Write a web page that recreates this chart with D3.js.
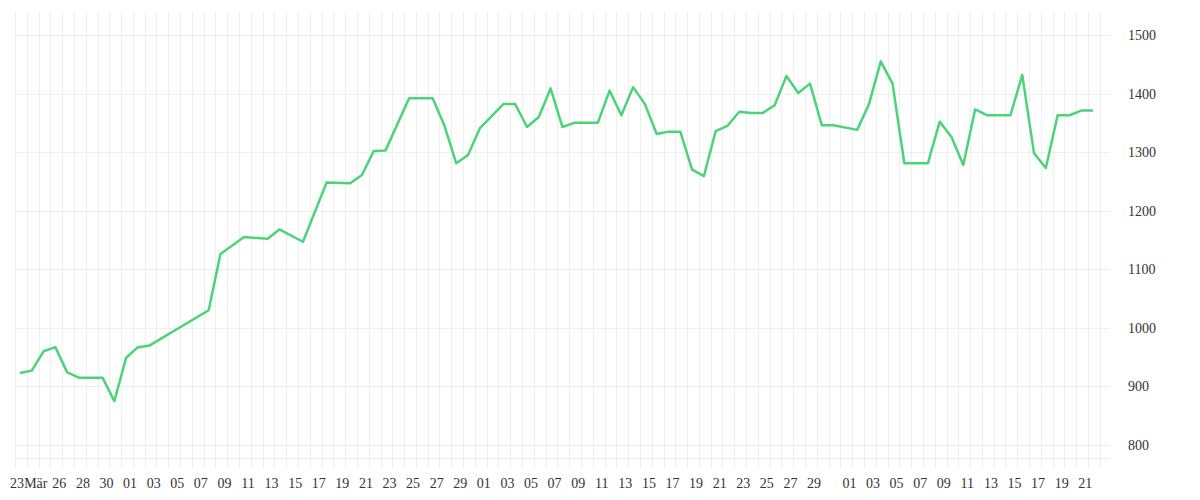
<!DOCTYPE html>
<html><head><meta charset="utf-8">
<script src="https://cdn.jsdelivr.net/npm/d3@7/dist/d3.min.js"></script>
<style>body{margin:0;background:#fff}svg{display:block}</style>
</head><body><svg id="c" width="1200" height="500"></svg>
<script>
const dates = ["2020-03-23","2020-03-24","2020-03-25","2020-03-26","2020-03-27","2020-03-28","2020-03-30","2020-03-31","2020-04-01","2020-04-02","2020-04-03",
"2020-04-08","2020-04-09","2020-04-11","2020-04-13","2020-04-14","2020-04-16","2020-04-18","2020-04-20","2020-04-21","2020-04-22",
"2020-04-23","2020-04-25","2020-04-27","2020-04-28","2020-04-29","2020-04-30","2020-05-01","2020-05-03","2020-05-04","2020-05-05",
"2020-05-06","2020-05-07","2020-05-08","2020-05-09","2020-05-11","2020-05-12","2020-05-13","2020-05-14","2020-05-15","2020-05-16",
"2020-05-17","2020-05-18","2020-05-19","2020-05-20","2020-05-21","2020-05-22","2020-05-23","2020-05-24","2020-05-25","2020-05-26",
"2020-05-27","2020-05-28","2020-05-29","2020-05-30","2020-05-31","2020-06-02","2020-06-03","2020-06-04","2020-06-05","2020-06-06",
"2020-06-08","2020-06-09","2020-06-10","2020-06-11","2020-06-12","2020-06-13","2020-06-15","2020-06-16","2020-06-17","2020-06-18",
"2020-06-19","2020-06-20","2020-06-21","2020-06-22"];
const values = [923,927,960,967,924,915,915,875,949,967,970,
1030,1126,1155,1152,1168,1147,1248,1247,1261,1302,
1303,1392,1392,1345,1281,1295,1341,1382,1382,1343,
1360,1409,1343,1350,1350,1405,1363,1411,1382,1331,
1335,1335,1270,1259,1336,1345,1369,1367,1367,1380,
1430,1401,1417,1346,1346,1338,1382,1455,1417,1281,
1281,1352,1326,1278,1373,1363,1363,1432,1298,1273,
1363,1363,1371,1371];
const tickDates = ["2020-03-23","2020-03-24","2020-03-26","2020-03-28","2020-03-30",
"2020-04-01","2020-04-03","2020-04-05","2020-04-07","2020-04-09","2020-04-11","2020-04-13","2020-04-15","2020-04-17","2020-04-19","2020-04-21","2020-04-23","2020-04-25","2020-04-27","2020-04-29",
"2020-05-01","2020-05-03","2020-05-05","2020-05-07","2020-05-09","2020-05-11","2020-05-13","2020-05-15","2020-05-17","2020-05-19","2020-05-21","2020-05-23","2020-05-25","2020-05-27","2020-05-29",
"2020-06-01","2020-06-03","2020-06-05","2020-06-07","2020-06-09","2020-06-11","2020-06-13","2020-06-15","2020-06-17","2020-06-19","2020-06-21"];
const tickLabels = ["23","Mär","26","28","30",
"01","03","05","07","09","11","13","15","17","19","21","23","25","27","29",
"01","03","05","07","09","11","13","15","17","19","21","23","25","27","29",
"01","03","05","07","09","11","13","15","17","19","21"];
const yTicks = [800,900,1000,1100,1200,1300,1400,1500];

const parse = d3.utcParse("%Y-%m-%d");
const svg = d3.select("#c");
const x = d3.scaleUtc().domain([parse("2020-03-23"), parse("2020-06-22")]).range([20, 1093]);
const y = d3.scaleLinear().domain([800, 1500]).range([445, 35]);
const gLeft = 15, gRight = 1110, gTop = 12, gBottom = 468;
const grid = svg.append("g").attr("stroke", "#efefef").attr("stroke-width", 1);
const days = d3.utcDay.range(parse("2020-03-23"), d3.utcDay.offset(parse("2020-06-22"), 2));
days.forEach(d => {
  const gx = Math.round(x(d) - 5) + 0.5;
  if (gx <= gRight + 1) grid.append("line").attr("x1", gx).attr("x2", gx).attr("y1", gTop).attr("y2", gBottom);
});
yTicks.forEach(t => grid.append("line").attr("x1", gLeft).attr("x2", gRight).attr("y1", Math.round(y(t)) + 0.5).attr("y2", Math.round(y(t)) + 0.5));
grid.append("line").attr("x1", gLeft).attr("x2", gRight).attr("y1", 458.5).attr("y2", 458.5);

const font = "'Liberation Serif', serif";
svg.append("g").selectAll("text").data(yTicks).join("text")
  .attr("x", 1128).attr("y", d => y(d) + 5).attr("font-family", font).attr("font-size", 14).attr("fill", "#333").text(d => d);
svg.append("g").selectAll("text").data(tickDates).join("text")
  .attr("x", (d, i) => i === 0 ? 17 : x(parse(d)) + 4).attr("y", 488).attr("text-anchor", "middle")
  .attr("font-family", font).attr("font-size", 14).attr("fill", "#333").text((d, i) => tickLabels[i]);

const pts = dates.map((d, i) => [parse(d), values[i]]);
svg.append("path").datum(pts).attr("fill", "none").attr("stroke", "#4cd37a").attr("stroke-width", 2.5)
  .attr("stroke-linejoin", "round")
  .attr("d", d3.line().x(d => x(d[0])).y(d => y(d[1])));
</script></body></html>
